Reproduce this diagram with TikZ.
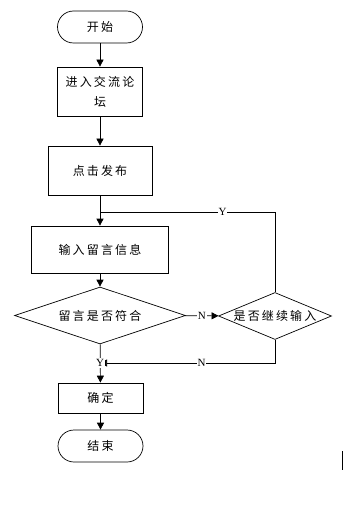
\documentclass[tikz,border=0pt]{standalone}
\usepackage{fontspec}
\newfontfamily\cjk[LetterSpace=18]{Noto Sans CJK SC}
\newfontfamily\yn{Liberation Serif}
\usetikzlibrary{arrows.meta, shapes.geometric, positioning}

\begin{document}
\begin{tikzpicture}[x=1pt, y=-1pt,
    terminal/.style={rectangle, draw, rounded corners=16pt, minimum width=85pt, minimum height=32pt, font=\cjk\fontsize{12}{20}\selectfont},
    procbox/.style={rectangle, draw, align=center, font=\cjk\fontsize{12}{20}\selectfont},
    decision/.style={diamond, draw, inner sep=0pt, aspect=2.4, font=\cjk\fontsize{12}{20}\selectfont},
    yn/.style={fill=white, inner sep=1pt, font=\yn\fontsize{11}{11}\selectfont},
    arrow/.style={-{Triangle[length=7pt, width=7pt]}},
    line width=0.7pt
]
\useasboundingbox (0,0) rectangle (343,505);

% 开始与结束
\node[terminal] (start) at (100,27) {开始};
\node[terminal] (finish) at (100.5,446) {结束};

% 处理步骤
\node[procbox, minimum width=85pt, minimum height=49pt] (forum) at (100,91.5) {进入交流论\\坛};
\node[procbox, minimum width=104pt, minimum height=49pt] (publish) at (100,170.5) {点击发布};
\node[procbox, minimum width=137pt, minimum height=47pt] (input) at (100,249.5) {输入留言信息};
\node[procbox, minimum width=85pt, minimum height=30pt] (confirm) at (100.5,398) {确定};

% 判断
\node[decision, aspect=3, minimum width=171pt, minimum height=57pt] (check) at (100,315.5) {留言是否符合};
\node[decision, minimum width=113pt, minimum height=47pt] (again) at (275,316) {是否继续输入};

% 辅助点
\coordinate (loopup) at (275,212);
\coordinate (loopjoin) at (100,212);
\coordinate (backdown) at (275,363);
\coordinate (backjoin) at (100,363);

% 主流程
\draw[arrow] (start) -- (forum);
\draw[arrow] (forum) -- (publish);
\draw[arrow] (publish) -- (input);
\draw[arrow] (input) -- (check);
\draw[arrow] (check) -- (confirm);
\draw[arrow] (confirm) -- (finish);

% 分支
\draw[arrow] (check) -- node[yn] {N} (again);
\draw (again.north) -- (loopup) -- node[yn, pos=0.3] {Y} (loopjoin);
\draw[arrow] (again.south) -- (backdown) -- node[yn, pos=0.42] {N} (backjoin);
\node[yn] (yes) at (backjoin) {Y};

% 右侧短竖线
\draw[line width=1pt] (342,451) -- (342,470);
\end{tikzpicture}
\end{document}
